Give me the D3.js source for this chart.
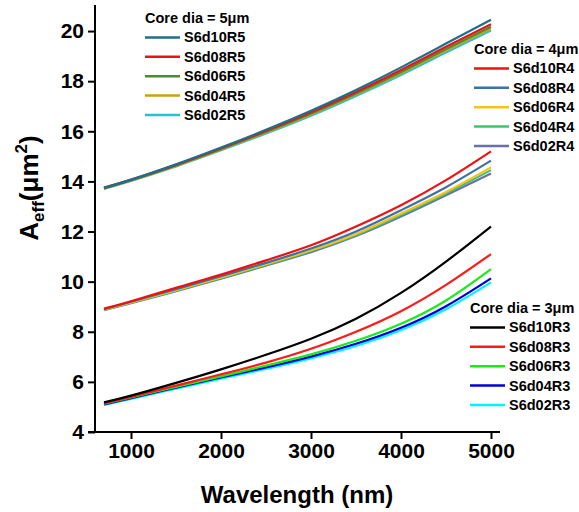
<!DOCTYPE html>
<html>
<head>
<meta charset="utf-8">
<script src="https://cdn.jsdelivr.net/npm/d3@7"></script>
<style>
  body { margin: 0; background: #fff; }
  svg { font-family: "Liberation Sans", Arial, sans-serif; font-weight: bold; }
</style>
</head>
<body>
<svg id="chart" width="579" height="512"></svg>
<script>
const wavelengths = [700, 1000, 1500, 2000, 2500, 3000, 3500, 4000, 4500, 5000];

// Core dia = 5um
const namesR5 = ["S6d10R5", "S6d08R5", "S6d06R5", "S6d04R5", "S6d02R5"];
const colorsR5 = ["#1f6f8b", "#e8141c", "#4f8a2f", "#c9a211", "#2bbfd6"];
const valuesR5 = [
  [13.75, 14.07, 14.68, 15.35, 16.06, 16.82, 17.65, 18.55, 19.50, 20.45],
  [13.74, 14.06, 14.66, 15.32, 16.02, 16.76, 17.57, 18.45, 19.37, 20.27],
  [13.73, 14.05, 14.64, 15.29, 15.98, 16.71, 17.51, 18.37, 19.28, 20.17],
  [13.72, 14.04, 14.62, 15.27, 15.95, 16.67, 17.47, 18.32, 19.22, 20.10],
  [13.70, 14.02, 14.60, 15.24, 15.91, 16.62, 17.41, 18.25, 19.14, 20.02]
];

// Core dia = 4um
const namesR4 = ["S6d10R4", "S6d08R4", "S6d06R4", "S6d04R4", "S6d02R4"];
const colorsR4 = ["#ee1111", "#3d72a8", "#f8c11c", "#3ec46d", "#6e6fa6"];
const valuesR4 = [
  [8.92, 9.22, 9.75, 10.28, 10.85, 11.45, 12.20, 13.05, 14.05, 15.20],
  [8.90, 9.20, 9.70, 10.22, 10.75, 11.32, 12.00, 12.85, 13.77, 14.83],
  [8.88, 9.17, 9.66, 10.17, 10.70, 11.25, 11.90, 12.72, 13.58, 14.56],
  [8.87, 9.16, 9.64, 10.15, 10.67, 11.22, 11.86, 12.66, 13.52, 14.45],
  [8.86, 9.14, 9.62, 10.12, 10.64, 11.18, 11.82, 12.60, 13.45, 14.32]
];

// Core dia = 3um
const namesR3 = ["S6d10R3", "S6d08R3", "S6d06R3", "S6d04R3", "S6d02R3"];
const colorsR3 = ["#000000", "#ff1a1a", "#19ec19", "#0000e0", "#00f4ff"];
const valuesR3 = [
  [5.18, 5.45, 5.96, 6.50, 7.08, 7.72, 8.52, 9.55, 10.80, 12.20],
  [5.15, 5.40, 5.85, 6.30, 6.77, 7.32, 8.00, 8.82, 9.87, 11.10],
  [5.13, 5.38, 5.80, 6.22, 6.65, 7.10, 7.64, 8.32, 9.25, 10.50],
  [5.10, 5.35, 5.77, 6.18, 6.58, 7.01, 7.52, 8.16, 9.02, 10.13],
  [5.08, 5.32, 5.73, 6.13, 6.52, 6.94, 7.43, 8.06, 8.90, 9.97]
];

const xTicks = [1000, 2000, 3000, 4000, 5000];
const yTicks = [4, 6, 8, 10, 12, 14, 16, 18, 20];

const svg = d3.select("#chart");

const x = d3.scaleLinear().domain([600, 5100]).range([95, 500]);
const y = d3.scaleLinear().domain([4, 21]).range([432, 6]);

const line = d3.line()
  .x((d, i) => x(wavelengths[i]))
  .y(d => y(d))
  .curve(d3.curveNatural);

const groups = [
  { title: "Core dia = 5μm", names: namesR5, colors: colorsR5, values: valuesR5, lx: 145, ly: 18 },
  { title: "Core dia = 4μm", names: namesR4, colors: colorsR4, values: valuesR4, lx: 474, ly: 49 },
  { title: "Core dia = 3μm", names: namesR3, colors: colorsR3, values: valuesR3, lx: 470, ly: 308 }
];

// Curves, drawn in reverse so the first series sits on top
groups.forEach(g => {
  svg.append("g")
    .attr("fill", "none")
    .attr("stroke-width", 2.2)
    .selectAll("path")
    .data(g.values.map((v, i) => ({ v, c: g.colors[i] })).reverse())
    .join("path")
    .attr("stroke", d => d.c)
    .attr("d", d => line(d.v));
});

// Axes
const xAxis = svg.append("g").attr("transform", "translate(0,432)");
xAxis.call(d3.axisBottom(x).tickValues(d3.range(1000, 5001, 500)).tickSize(4).tickFormat(""));
xAxis.call(d3.axisBottom(x).tickValues(xTicks).tickSize(7).tickPadding(4).tickFormat(d3.format("d")));
xAxis.selectAll(".domain").remove();
xAxis.append("line").attr("x1", 88).attr("x2", 500).attr("stroke", "#000").attr("stroke-width", 2);

const yAxis = svg.append("g").attr("transform", "translate(95,0)");
yAxis.call(d3.axisLeft(y).tickValues(d3.range(5, 21, 2)).tickSize(4).tickFormat(""));
yAxis.call(d3.axisLeft(y).tickValues(yTicks).tickSize(7).tickPadding(4));
yAxis.selectAll(".domain").remove();
yAxis.append("line").attr("y1", 432).attr("y2", 5).attr("stroke", "#000").attr("stroke-width", 2);

svg.selectAll(".tick line").attr("stroke-width", 2);
svg.selectAll(".tick text")
  .attr("font-size", 21)
  .attr("font-family", "Liberation Sans, Arial, sans-serif")
  .attr("font-weight", "bold")
  .attr("fill", "#000");

// Axis titles
svg.append("text")
  .attr("x", 297).attr("y", 503)
  .attr("text-anchor", "middle")
  .attr("font-size", 24)
  .text("Wavelength (nm)");

const yTitle = svg.append("text")
  .attr("transform", "translate(38,188) rotate(-90)")
  .attr("text-anchor", "middle")
  .attr("font-size", 26);
yTitle.append("tspan").text("A");
yTitle.append("tspan").attr("font-size", 17).attr("dy", 6).text("eff");
yTitle.append("tspan").attr("dy", -6).text("(μm");
yTitle.append("tspan").attr("font-size", 17).attr("dy", -11).text("2");
yTitle.append("tspan").attr("dy", 11).text(")");

// Legends
groups.forEach(g => {
  const lg = svg.append("g").attr("font-size", 14.5);
  lg.append("text")
    .attr("x", g.lx).attr("y", g.ly)
    .attr("dy", "0.35em")
    .text(g.title);
  const row = lg.selectAll("g.row")
    .data(g.names)
    .join("g")
    .attr("class", "row")
    .attr("transform", (d, i) => `translate(${g.lx},${g.ly + 19.4 * (i + 1)})`);
  row.append("line")
    .attr("x1", 0).attr("x2", 35)
    .attr("stroke", (d, i) => g.colors[i])
    .attr("stroke-width", 2.5);
  row.append("text")
    .attr("x", 39)
    .attr("dy", "0.35em")
    .text(d => d);
});
</script>
</body>
</html>
